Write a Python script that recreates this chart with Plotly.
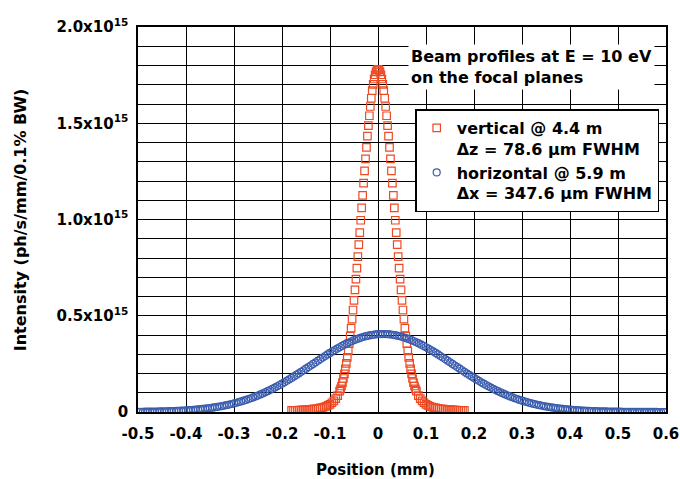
import plotly.graph_objects as go

# ---------------- data (intensity in units of 1e15 ph/s/mm/0.1% BW) ----------------
x_tick_values = [-0.5, -0.4, -0.3, -0.2, -0.1, 0.0, 0.1, 0.2, 0.3, 0.4, 0.5, 0.6]
x_tick_labels = ["-0.5", "-0.4", "-0.3", "-0.2", "-0.1", "0", "0.1", "0.2", "0.3", "0.4", "0.5", "0.6"]
y_tick_values = [0.0, 0.5, 1.0, 1.5, 2.0]
y_tick_labels = ["0", "0.5x10<sup>15</sup>", "1.0x10<sup>15</sup>", "1.5x10<sup>15</sup>", "2.0x10<sup>15</sup>"]

vertical_name = "vertical @ 4.4 m<br>Δz = 78.6 µm FWHM"
horizontal_name = "horizontal @ 5.9 m<br>Δx = 347.6 µm FWHM"

vertical_x = [
    -0.180, -0.176, -0.172, -0.168, -0.164, -0.160, -0.156, -0.152, -0.148, -0.144,
    -0.140, -0.136, -0.132, -0.128, -0.124, -0.120, -0.116, -0.112, -0.108, -0.104,
    -0.100, -0.096, -0.092, -0.088, -0.084,
    -0.080, -0.078, -0.076, -0.074, -0.072, -0.070, -0.068, -0.066, -0.064, -0.062,
    -0.060, -0.058, -0.056, -0.054, -0.052, -0.050, -0.048, -0.046, -0.044, -0.042,
    -0.040, -0.038, -0.036, -0.034, -0.032, -0.030, -0.028, -0.026, -0.024, -0.022,
    -0.020, -0.018, -0.016, -0.014, -0.012, -0.010, -0.008, -0.006, -0.004, -0.002,
    0.000,
    0.002, 0.004, 0.006, 0.008, 0.010, 0.012, 0.014, 0.016, 0.018, 0.020,
    0.022, 0.024, 0.026, 0.028, 0.030, 0.032, 0.034, 0.036, 0.038, 0.040,
    0.042, 0.044, 0.046, 0.048, 0.050, 0.052, 0.054, 0.056, 0.058, 0.060,
    0.062, 0.064, 0.066, 0.068, 0.070, 0.072, 0.074, 0.076, 0.078, 0.080,
    0.084, 0.088, 0.092, 0.096, 0.100, 0.104, 0.108, 0.112, 0.116, 0.120,
    0.124, 0.128, 0.132, 0.136, 0.140, 0.144, 0.148, 0.152, 0.156, 0.160,
    0.164, 0.168, 0.172, 0.176, 0.180,
]
vertical_y = [
    0.008, 0.008, 0.009, 0.009, 0.010, 0.010, 0.011, 0.011, 0.012, 0.013,
    0.014, 0.015, 0.016, 0.017, 0.019, 0.021, 0.023, 0.026, 0.030, 0.034,
    0.040, 0.048, 0.058, 0.070, 0.085,
    0.108, 0.120, 0.135, 0.153, 0.174, 0.198, 0.224, 0.253, 0.284, 0.318,
    0.355, 0.394, 0.436, 0.482, 0.530, 0.580, 0.634, 0.690, 0.747, 0.807,
    0.869, 0.932, 0.996, 1.060, 1.125, 1.189, 1.253, 1.315, 1.375, 1.433,
    1.488, 1.539, 1.587, 1.630, 1.669, 1.702, 1.730, 1.752, 1.767, 1.777,
    1.780,
    1.777, 1.767, 1.752, 1.730, 1.702, 1.669, 1.630, 1.587, 1.539, 1.488,
    1.433, 1.375, 1.315, 1.253, 1.189, 1.125, 1.060, 0.996, 0.932, 0.869,
    0.807, 0.747, 0.690, 0.634, 0.580, 0.530, 0.482, 0.436, 0.394, 0.355,
    0.318, 0.284, 0.253, 0.224, 0.198, 0.174, 0.153, 0.135, 0.120, 0.108,
    0.085, 0.070, 0.058, 0.048, 0.040, 0.034, 0.030, 0.026, 0.023, 0.021,
    0.019, 0.017, 0.016, 0.015, 0.014, 0.013, 0.012, 0.011, 0.011, 0.010,
    0.010, 0.009, 0.009, 0.008, 0.008,
]

horizontal_x = [
    -0.500, -0.495, -0.490, -0.485, -0.480, -0.475, -0.470, -0.465, -0.460, -0.455,
    -0.450, -0.445, -0.440, -0.435, -0.430, -0.425, -0.420, -0.415, -0.410, -0.405,
    -0.400, -0.395, -0.390, -0.385, -0.380, -0.375, -0.370, -0.365, -0.360, -0.355,
    -0.350, -0.345, -0.340, -0.335, -0.330, -0.325, -0.320, -0.315, -0.310, -0.305,
    -0.300, -0.295, -0.290, -0.285, -0.280, -0.275, -0.270, -0.265, -0.260, -0.255,
    -0.250, -0.245, -0.240, -0.235, -0.230, -0.225, -0.220, -0.215, -0.210, -0.205,
    -0.200, -0.195, -0.190, -0.185, -0.180, -0.175, -0.170, -0.165, -0.160, -0.155,
    -0.150, -0.145, -0.140, -0.135, -0.130, -0.125, -0.120, -0.115, -0.110, -0.105,
    -0.100, -0.095, -0.090, -0.085, -0.080, -0.075, -0.070, -0.065, -0.060, -0.055,
    -0.050, -0.045, -0.040, -0.035, -0.030, -0.025, -0.020, -0.015, -0.010, -0.005,
    0.000, 0.005, 0.010, 0.015, 0.020, 0.025, 0.030, 0.035, 0.040, 0.045,
    0.050, 0.055, 0.060, 0.065, 0.070, 0.075, 0.080, 0.085, 0.090, 0.095,
    0.100, 0.105, 0.110, 0.115, 0.120, 0.125, 0.130, 0.135, 0.140, 0.145,
    0.150, 0.155, 0.160, 0.165, 0.170, 0.175, 0.180, 0.185, 0.190, 0.195,
    0.200, 0.205, 0.210, 0.215, 0.220, 0.225, 0.230, 0.235, 0.240, 0.245,
    0.250, 0.255, 0.260, 0.265, 0.270, 0.275, 0.280, 0.285, 0.290, 0.295,
    0.300, 0.305, 0.310, 0.315, 0.320, 0.325, 0.330, 0.335, 0.340, 0.345,
    0.350, 0.355, 0.360, 0.365, 0.370, 0.375, 0.380, 0.385, 0.390, 0.395,
    0.400, 0.405, 0.410, 0.415, 0.420, 0.425, 0.430, 0.435, 0.440, 0.445,
    0.450, 0.455, 0.460, 0.465, 0.470, 0.475, 0.480, 0.485, 0.490, 0.495,
    0.500, 0.505, 0.510, 0.515, 0.520, 0.525, 0.530, 0.535, 0.540, 0.545,
    0.550, 0.555, 0.560, 0.565, 0.570, 0.575, 0.580, 0.585, 0.590, 0.595,
    0.600,
]
horizontal_y = [
    0.0010, 0.0012, 0.0013, 0.0015, 0.0016, 0.0018, 0.0020, 0.0023, 0.0025, 0.0028,
    0.0032, 0.0035, 0.0039, 0.0043, 0.0048, 0.0053, 0.0058, 0.0064, 0.0071, 0.0078,
    0.0085, 0.0094, 0.0103, 0.0113, 0.0123, 0.0135, 0.0147, 0.0161, 0.0175, 0.0190,
    0.0207, 0.0225, 0.0243, 0.0264, 0.0285, 0.0308, 0.0333, 0.0359, 0.0386, 0.0415,
    0.0446, 0.0479, 0.0513, 0.0550, 0.0588, 0.0628, 0.0670, 0.0714, 0.0760, 0.0808,
    0.0858, 0.0911, 0.0965, 0.1021, 0.1080, 0.1140, 0.1203, 0.1267, 0.1334, 0.1402,
    0.1472, 0.1544, 0.1617, 0.1692, 0.1769, 0.1846, 0.1925, 0.2005, 0.2086, 0.2168,
    0.2250, 0.2333, 0.2416, 0.2500, 0.2583, 0.2666, 0.2748, 0.2830, 0.2910, 0.2990,
    0.3068, 0.3145, 0.3219, 0.3292, 0.3363, 0.3431, 0.3497, 0.3560, 0.3619, 0.3676,
    0.3729, 0.3778, 0.3824, 0.3866, 0.3904, 0.3938, 0.3967, 0.3992, 0.4013, 0.4029,
    0.4041, 0.4048, 0.4050, 0.4048, 0.4041, 0.4029, 0.4013, 0.3992, 0.3967, 0.3938,
    0.3904, 0.3866, 0.3824, 0.3778, 0.3729, 0.3676, 0.3619, 0.3560, 0.3497, 0.3431,
    0.3363, 0.3292, 0.3219, 0.3145, 0.3068, 0.2990, 0.2910, 0.2830, 0.2748, 0.2666,
    0.2583, 0.2500, 0.2416, 0.2333, 0.2250, 0.2168, 0.2086, 0.2005, 0.1925, 0.1846,
    0.1769, 0.1692, 0.1617, 0.1544, 0.1472, 0.1402, 0.1334, 0.1267, 0.1203, 0.1140,
    0.1080, 0.1021, 0.0965, 0.0911, 0.0858, 0.0808, 0.0760, 0.0714, 0.0670, 0.0628,
    0.0588, 0.0550, 0.0513, 0.0479, 0.0446, 0.0415, 0.0386, 0.0359, 0.0333, 0.0308,
    0.0285, 0.0264, 0.0243, 0.0225, 0.0207, 0.0190, 0.0175, 0.0161, 0.0147, 0.0135,
    0.0123, 0.0113, 0.0103, 0.0094, 0.0085, 0.0078, 0.0071, 0.0064, 0.0058, 0.0053,
    0.0048, 0.0043, 0.0039, 0.0035, 0.0032, 0.0028, 0.0025, 0.0023, 0.0020, 0.0018,
    0.0016, 0.0015, 0.0013, 0.0012, 0.0010, 0.0009, 0.0008, 0.0007, 0.0006, 0.0005,
    0.0005, 0.0004, 0.0003, 0.0003, 0.0002, 0.0002, 0.0002, 0.0001, 0.0001, 0.0001,
    0.0001,
]

# ---------------- figure ----------------
FONT = "DejaVu Sans, Liberation Sans, Arial, sans-serif"
RED = "#EE4A24"
BLUE = "#3A5CAE"

fig = go.Figure()
fig.add_trace(go.Scatter(
    x=vertical_x, y=vertical_y, mode="markers", name=vertical_name,
    marker=dict(symbol="square-open", size=7.5, color=RED, line=dict(width=1.2, color=RED)),
))
fig.add_trace(go.Scatter(
    x=horizontal_x, y=horizontal_y, mode="markers", name=horizontal_name,
    marker=dict(symbol="circle-open", size=7, color=BLUE, line=dict(width=1.2, color=BLUE)),
))

axis_common = dict(
    automargin=False,
    showgrid=True, gridcolor="black", gridwidth=1,
    zeroline=False, showline=True, linecolor="black", linewidth=1.5, mirror=True,
    ticks="outside", tickcolor="rgba(0,0,0,0)",
    tickfont=dict(family=FONT, size=15, color="black", weight="bold"),
)

fig.update_layout(
    width=680, height=479,
    margin=dict(l=138, r=14, t=27, b=67),
    paper_bgcolor="white", plot_bgcolor="white",
    font=dict(family=FONT, size=15, color="black", weight="bold"),
    xaxis=dict(range=[-0.5, 0.6], tickmode="array", tickvals=x_tick_values,
               ticktext=x_tick_labels, ticklen=7, **axis_common),
    yaxis=dict(range=[0, 2.0], tickmode="array", tickvals=y_tick_values,
               ticktext=y_tick_labels, ticklen=5,
               minor=dict(dtick=0.1, tick0=0, showgrid=True, gridcolor="black", gridwidth=1),
               **axis_common),
    showlegend=True,
    legend=dict(x=0.525, y=0.786, xanchor="left", yanchor="top",
                bgcolor="white", bordercolor="black", borderwidth=1.5,
                valign="top", tracegroupgap=0,
                font=dict(family=FONT, size=16, color="black", weight="bold")),
)

fig.add_annotation(
    xref="paper", yref="paper", x=0.512, y=0.955, xanchor="left", yanchor="top",
    text="Beam profiles at E = 10 eV<br>on the focal planes", align="left",
    showarrow=False, bgcolor="white", borderpad=2,
    font=dict(family=FONT, size=16, color="black", weight="bold"),
)
fig.add_annotation(
    xref="paper", yref="paper", x=-0.222, y=0.5, xanchor="center", yanchor="middle",
    text="Intensity (ph/s/mm/0.1% BW)", textangle=-90, showarrow=False,
    font=dict(family=FONT, size=16, color="black", weight="bold"),
)
fig.add_annotation(
    xref="x", yref="paper", x=-0.005, y=-0.15, xanchor="center", yanchor="middle",
    text="Position (mm)", showarrow=False,
    font=dict(family=FONT, size=15, color="black", weight="bold"),
)

fig.write_html("out.html", config={"displayModeBar": False},
               post_script="document.body.style.margin='0';")
